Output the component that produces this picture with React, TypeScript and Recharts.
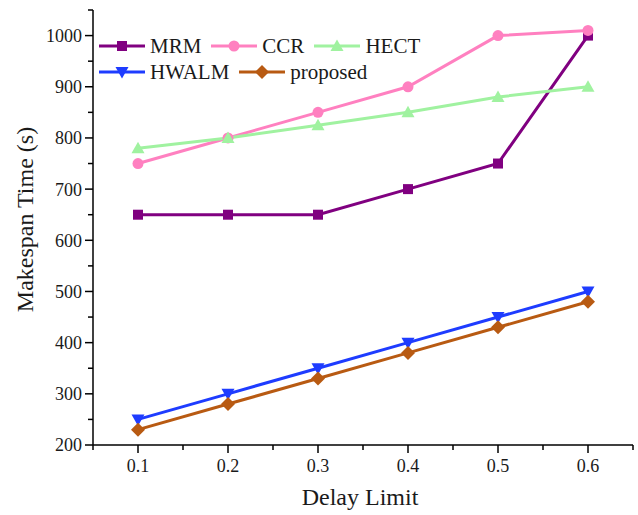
import React from 'react';
import { LineChart, Line, XAxis, YAxis } from 'recharts';

const delayLimits = [0.1, 0.2, 0.3, 0.4, 0.5, 0.6];
const mrm = [650, 650, 650, 700, 750, 1000];
const ccr = [750, 800, 850, 900, 1000, 1010];
const hect = [780, 800, 825, 850, 880, 900];
const hwalm = [250, 300, 350, 400, 450, 500];
const proposed = [230, 280, 330, 380, 430, 480];

const xTicks = [0.05, 0.1, 0.15, 0.2, 0.25, 0.3, 0.35, 0.4, 0.45, 0.5, 0.55, 0.6, 0.65];
const yTicks = [200, 250, 300, 350, 400, 450, 500, 550, 600, 650, 700, 750, 800, 850, 900, 950, 1000, 1050];

const FONT = 'Liberation Serif, Times New Roman, serif';
const TEXT = '#1a1a1a';

type Shape = 'square' | 'circle' | 'triangle' | 'triangleDown' | 'diamond';

const series: { key: string; name: string; color: string; shape: Shape; values: number[] }[] = [
  { key: 'MRM', name: 'MRM', color: '#800080', shape: 'square', values: mrm },
  { key: 'CCR', name: 'CCR', color: '#FF80C0', shape: 'circle', values: ccr },
  { key: 'HECT', name: 'HECT', color: '#A0F2A0', shape: 'triangle', values: hect },
  { key: 'HWALM', name: 'HWALM', color: '#1E3CFF', shape: 'triangleDown', values: hwalm },
  { key: 'proposed', name: 'proposed', color: '#B85A12', shape: 'diamond', values: proposed },
];

const data = delayLimits.map((x, i) => {
  const row: Record<string, number> = { x };
  series.forEach((s) => {
    row[s.key] = s.values[i];
  });
  return row;
});

function Marker({ shape, cx, cy, color }: { shape: Shape; cx: number; cy: number; color: string }) {
  if (cx == null || cy == null) return null;
  switch (shape) {
    case 'square':
      return <rect x={cx - 5} y={cy - 5} width={10} height={10} fill={color} />;
    case 'circle':
      return <circle cx={cx} cy={cy} r={5.5} fill={color} />;
    case 'triangle':
      return <polygon points={`${cx},${cy - 6.5} ${cx + 6.5},${cy + 5} ${cx - 6.5},${cy + 5}`} fill={color} />;
    case 'triangleDown':
      return <polygon points={`${cx},${cy + 6.5} ${cx + 6.5},${cy - 5} ${cx - 6.5},${cy - 5}`} fill={color} />;
    case 'diamond':
      return <polygon points={`${cx},${cy - 7} ${cx + 7},${cy} ${cx},${cy + 7} ${cx - 7},${cy}`} fill={color} />;
  }
  return null;
}

const isMajorX = (v: number) => Math.round(v * 100) % 10 === 0 && v > 0.07 && v < 0.63;
const isMajorY = (v: number) => v % 100 === 0 && v <= 1000;

function BottomTick(props: any) {
  const { x, y, payload } = props;
  const v = payload.value;
  const major = isMajorX(v);
  const len = major ? 8 : 5;
  return (
    <g>
      <line x1={x} y1={y} x2={x} y2={y + len} stroke="#000" strokeWidth={1.5} />
      {major && (
        <text x={x} y={y + 14} dy="0.71em" textAnchor="middle" fontFamily={FONT} fontSize={18} fill={TEXT}>
          {v.toFixed(1)}
        </text>
      )}
    </g>
  );
}

function TopTick(props: any) {
  const { x, y, payload } = props;
  const major = isMajorX(payload.value);
  const len = major ? 5 : 3;
  return <line x1={x} y1={y} x2={x} y2={y + len} stroke="#000" strokeWidth={1.5} />;
}

function LeftTick(props: any) {
  const { x, y, payload } = props;
  const v = payload.value;
  const major = isMajorY(v);
  const len = major ? 8 : 5;
  return (
    <g>
      <line x1={x} y1={y} x2={x - len} y2={y} stroke="#000" strokeWidth={1.5} />
      {major && (
        <text x={x - 11} y={y} dy="0.355em" textAnchor="end" fontFamily={FONT} fontSize={18} fill={TEXT}>
          {v}
        </text>
      )}
    </g>
  );
}

function RightTick(props: any) {
  const { x, y, payload } = props;
  const major = isMajorY(payload.value);
  const len = major ? 5 : 3;
  return <line x1={x} y1={y} x2={x - len} y2={y} stroke="#000" strokeWidth={1.5} />;
}

const YLabel = (props: any) => {
  const vb = props.viewBox || {};
  const cx = (vb.x || 0) + 25;
  const cy = (vb.y || 0) + (vb.height || 0) / 2 - 8;
  return (
    <text x={cx} y={cy} transform={`rotate(-90, ${cx}, ${cy})`} textAnchor="middle" dominantBaseline="central" fontFamily={FONT} fontSize={24} fill={TEXT}>
      Makespan Time (s)
    </text>
  );
};

const XLabel = (props: any) => {
  const vb = props.viewBox || {};
  const cx = (vb.x || 0) + (vb.width || 0) / 2 - 3;
  const cy = (vb.y || 0) + 60;
  return (
    <text x={cx} y={cy} textAnchor="middle" fontFamily={FONT} fontSize={24} fill={TEXT}>
      Delay Limit
    </text>
  );
};

function LegendItem({ s }: { s: (typeof series)[number] }) {
  return (
    <div style={{ display: 'flex', alignItems: 'center', marginRight: 9 }}>
      <svg width={48} height={20} style={{ display: 'block' }}>
        <line x1={1} y1={10} x2={47} y2={10} stroke={s.color} strokeWidth={3} />
        <Marker shape={s.shape} cx={24} cy={10} color={s.color} />
      </svg>
      <span style={{ fontFamily: FONT, fontSize: 21, color: TEXT, marginLeft: 4, lineHeight: '20px' }}>{s.name}</span>
    </div>
  );
}

const legendRows = [series.slice(0, 3), series.slice(3)];

export default function App() {
  return (
    <div style={{ position: 'absolute', left: 0, top: 0, width: 638, height: 515, background: '#fff' }}>
      <LineChart width={638} height={515} data={data} margin={{ top: 10, right: 5, left: 0, bottom: 0 }}>
        <XAxis
          xAxisId="bottom"
          dataKey="x"
          type="number"
          domain={[0.05, 0.65]}
          ticks={xTicks}
          interval={0}
          tickSize={0}
          tickMargin={0}
          tickLine={false}
          tick={<BottomTick />}
          height={70}
          axisLine={{ stroke: '#000', strokeWidth: 1.5 }}
          label={<XLabel />}
        />
        <XAxis
          xAxisId="top"
          orientation="top"
          dataKey="x"
          type="number"
          domain={[0.05, 0.65]}
          ticks={xTicks}
          interval={0}
          tickSize={0}
          tickMargin={0}
          tickLine={false}
          tick={<TopTick />}
          height={0}
          axisLine={{ stroke: '#000', strokeWidth: 1.5 }}
        />
        <YAxis
          yAxisId="left"
          type="number"
          domain={[200, 1050]}
          ticks={yTicks}
          interval={0}
          tickSize={0}
          tickMargin={0}
          tickLine={false}
          tick={<LeftTick />}
          width={93}
          axisLine={{ stroke: '#000', strokeWidth: 1.5 }}
          label={<YLabel />}
        />
        <YAxis
          yAxisId="right"
          orientation="right"
          type="number"
          domain={[200, 1050]}
          ticks={yTicks}
          interval={0}
          tickSize={0}
          tickMargin={0}
          tickLine={false}
          tick={<RightTick />}
          width={0}
          axisLine={{ stroke: '#000', strokeWidth: 1.5 }}
        />
        {series.map((s) => (
          <Line
            key={s.key}
            xAxisId="bottom"
            yAxisId="left"
            dataKey={s.key}
            name={s.name}
            stroke={s.color}
            strokeWidth={3}
            isAnimationActive={false}
            dot={(p: any) => <Marker key={`${s.key}-${p.index}`} shape={s.shape} cx={p.cx} cy={p.cy} color={s.color} />}
            activeDot={false}
          />
        ))}
      </LineChart>
      <div style={{ position: 'absolute', left: 98, top: 33 }}>
        {legendRows.map((row, i) => (
          <div key={i} style={{ display: 'flex', height: 26, alignItems: 'center' }}>
            {row.map((s) => (
              <LegendItem key={s.key} s={s} />
            ))}
          </div>
        ))}
      </div>
    </div>
  );
}
